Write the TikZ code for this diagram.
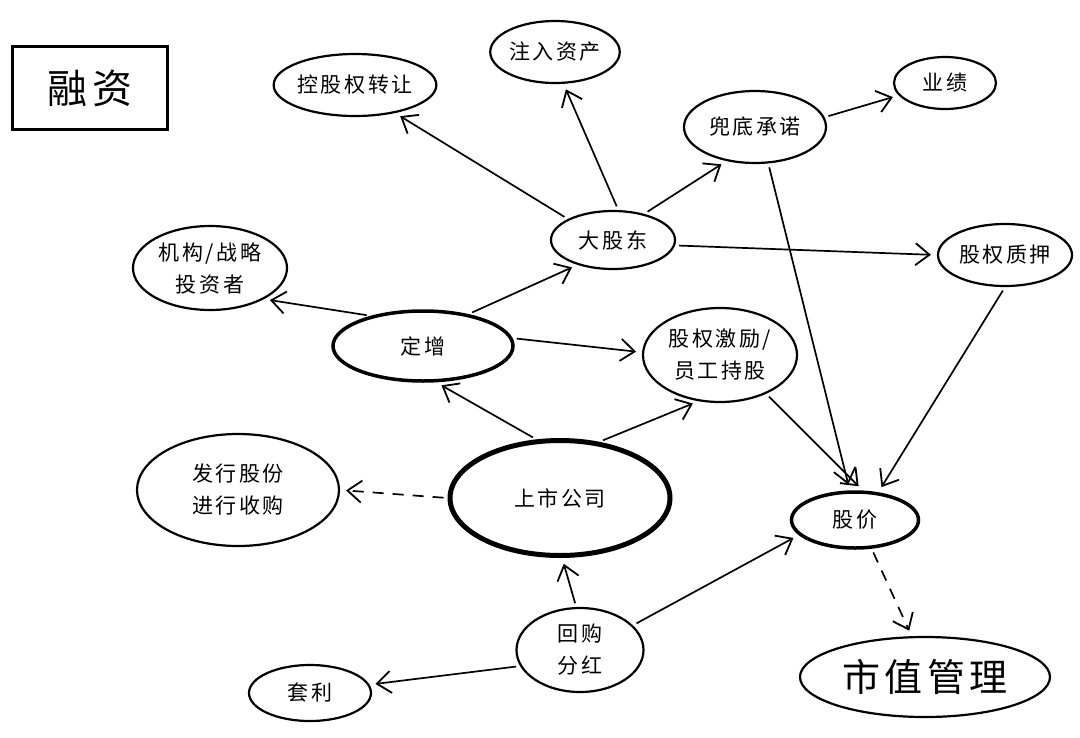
\documentclass[tikz,border=0pt]{standalone}
\usepackage{fontspec}
\setmainfont[LetterSpace=12]{Noto Sans CJK SC}
\usetikzlibrary{shapes.geometric,arrows.meta}

\begin{document}
\begin{tikzpicture}[
    x=1pt, y=-1pt,
    bubble/.style={ellipse, draw, line width=2.2pt, inner sep=0pt, align=center, font=\fontsize{21}{32}\selectfont},
    heavy/.style={line width=3.5pt},
    link/.style={-{Straight Barb[length=14pt,width=22pt,line width=1.8pt]}, line width=1.7pt, shorten <=4pt, shorten >=6pt},
    hint/.style={link, dash pattern=on 11pt off 9pt}
]
    \useasboundingbox (0,0) rectangle (1080,737);

    % title
    \node[draw, line width=3.2pt, minimum width=155, minimum height=83, font=\fontsize{40}{44}\selectfont] (title) at (90,88) {融资};

    % nodes
    \node[bubble, minimum width=152, minimum height=62] (kgq) at (355,85) {控股权转让};
    \node[bubble, minimum width=127, minimum height=62] (zrzc) at (555,52) {注入资产};
    \node[bubble, minimum width=142, minimum height=72] (ddcn) at (755,127) {兜底承诺};
    \node[bubble, minimum width=102, minimum height=52] (yj) at (945,83) {业绩};
    \node[bubble, minimum width=124, minimum height=58] (dgd) at (613,240) {大股东};
    \node[bubble, minimum width=154, minimum height=84] (jg) at (210,268) {机构/战略\\投资者};
    \node[bubble, minimum width=134, minimum height=62] (gqzy) at (1005,255) {股权质押};
    \node[bubble, heavy, minimum width=180, minimum height=70] (dz) at (423,346) {定增};
    \node[bubble, minimum width=154, minimum height=94] (jl) at (720,355) {股权激励/\\员工持股};
    \node[bubble, minimum width=202, minimum height=112] (fx) at (238,490) {发行股份\\进行收购};
    \node[bubble, line width=5pt, minimum width=220, minimum height=115] (ss) at (560,498) {上市公司};
    \node[bubble, heavy, minimum width=127, minimum height=56] (gj) at (855,520) {股价};
    \node[bubble, minimum width=127, minimum height=84] (hg) at (580,650) {回购\\分红};
    \node[bubble, minimum width=122, minimum height=56] (tl) at (310,693) {套利};
    \node[bubble, minimum width=250, minimum height=80, font=\fontsize{38}{42}\selectfont] (sz) at (925,677) {市值管理};

    % connectors
    \draw[link] (dgd.155) -- (kgq.-35);
    \draw[link] (dgd.80) -- (zrzc.-75);
    \draw[link] (dgd.40) -- (ddcn.-130);
    \draw[link] (ddcn.8) -- (yj.195);
    \draw[link] (dgd.-5) -- (gqzy.180);
    \draw[link] (dz.150) -- (jg.-30);
    \draw[link] (dz.35) -- (dgd.-145);
    \draw[link] (dz.5) -- (jl.178);
    \draw[link] (ss.112) -- (dz.-70);
    \draw[link] (ss.55) -- (jl.-115);
    \draw[hint] (ss.west) -- (fx.east);
    \draw[link] (ddcn.-70) -- (gj.100);
    \draw[link] (gqzy.-90) -- (gj.50);
    \draw[link] (jl.-40) -- (gj.75);
    \draw[link] (hg.95) -- (ss.-88);
    \draw[link] (hg.25) -- (gj.195);
    \draw[link] (hg.195) -- (tl.8);
    \draw[hint] (gj.-60) -- (sz.108);
\end{tikzpicture}
\end{document}
